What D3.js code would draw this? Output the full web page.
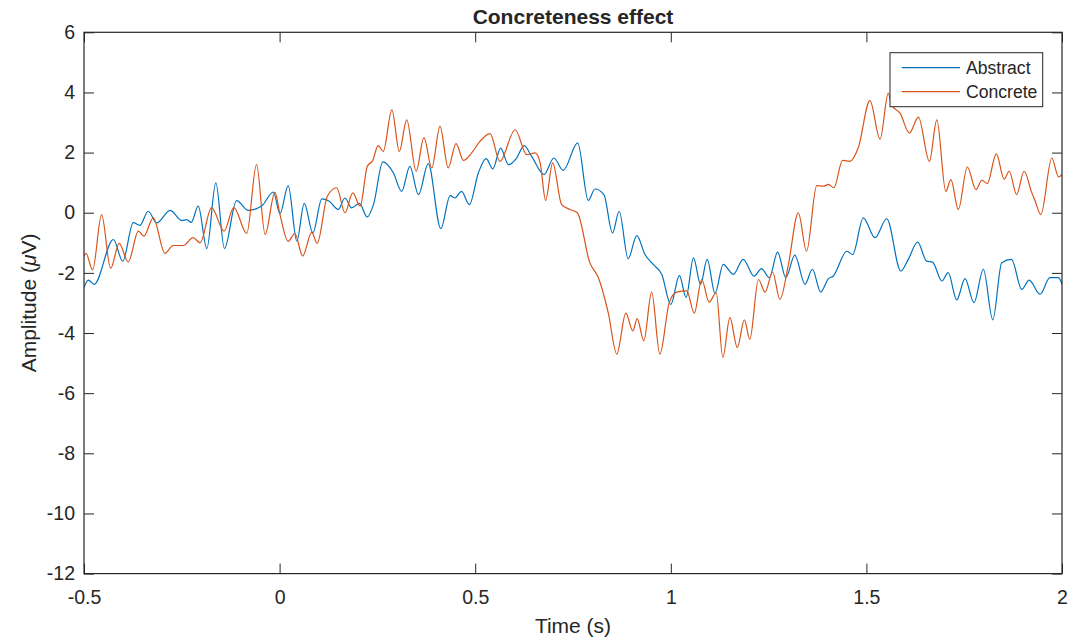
<!DOCTYPE html>
<html>
<head>
<meta charset="utf-8">
<script src="https://cdn.jsdelivr.net/npm/d3@7"></script>
<style>
  body { margin: 0; background: #fff; }
  svg text { font-family: "Liberation Sans", Arial, Helvetica, sans-serif; fill: #262626; }
</style>
</head>
<body>
<div id="chart"></div>
<script>
// data (time in s, amplitude in microvolts)
var tAbstract = [-0.5,-0.489,-0.474,-0.425,-0.401,-0.374,-0.357,-0.336,-0.314,-0.28,-0.25,-0.237,-0.226,-0.208,-0.186,-0.163,-0.141,-0.11,-0.08,-0.046,-0.016,
  0.001,0.022,0.044,0.063,0.085,0.108,0.127,0.15,0.167,0.184,0.204,0.224,0.24,0.264,0.291,0.312,0.333,0.355,0.38,0.412,0.436,0.448,0.465,0.485,
  0.508,0.528,0.545,0.565,0.585,0.606,0.625,0.644,0.676,0.701,0.725,0.762,0.789,0.806,0.829,0.851,0.868,0.891,0.913,0.934,0.955,0.977,
  1.0,1.022,1.039,1.058,1.076,1.093,1.113,1.134,1.16,1.185,1.213,1.232,1.252,1.273,1.294,1.317,1.343,1.362,1.383,1.403,1.415,1.45,1.465,1.492,
  1.522,1.552,1.588,1.607,1.631,1.654,1.669,1.693,1.709,1.731,1.752,1.775,1.799,1.823,1.846,1.871,1.897,1.916,1.944,1.969,1.991,2.0];
var vAbstract = [-2.49,-2.24,-2.38,-0.89,-1.61,-0.33,-0.42,0.05,-0.34,0.08,-0.26,-0.23,-0.32,0.22,-1.19,0.99,-1.19,0.40,0.08,0.22,0.69,
  -0.03,0.90,-0.94,0.31,-0.67,0.46,0.38,0.11,0.49,0.16,0.31,-0.14,0.27,1.69,1.32,0.71,1.54,0.60,1.63,-0.53,0.57,0.49,0.71,0.27,
  1.32,1.80,1.46,2.15,1.60,1.82,2.23,1.88,1.27,1.82,1.41,2.32,0.41,0.79,0.60,-0.67,0.05,-1.53,-0.76,-1.39,-1.72,-2.05,
  -3.05,-2.08,-2.82,-1.50,-2.38,-1.55,-2.68,-1.72,-2.05,-1.55,-2.11,-1.86,-2.16,-1.31,-2.16,-1.41,-2.38,-1.88,-2.64,-2.19,-2.11,-1.28,-1.39,-0.17,
  -0.83,-0.20,-1.94,-1.55,-0.98,-1.61,-1.64,-2.27,-1.99,-2.90,-2.19,-2.99,-1.88,-3.56,-1.66,-1.55,-2.55,-2.24,-2.71,-2.16,-2.16,-2.38];

var tConcrete = [-0.5,-0.495,-0.478,-0.455,-0.432,-0.41,-0.387,-0.361,-0.347,-0.323,-0.293,-0.272,-0.246,-0.221,-0.203,-0.174,-0.142,-0.117,-0.084,-0.059,-0.037,-0.012,
  0.001,0.022,0.039,0.059,0.082,0.096,0.122,0.146,0.167,0.187,0.206,0.224,0.238,0.252,0.265,0.287,0.306,0.325,0.349,0.369,0.389,0.41,0.431,0.451,0.47,0.491,
  0.512,0.538,0.563,0.602,0.632,0.653,0.666,0.68,0.698,0.721,0.742,0.761,0.793,0.815,0.84,0.862,0.885,0.903,0.914,0.931,0.951,0.972,0.996,
  1.015,1.041,1.06,1.079,1.098,1.116,1.133,1.151,1.17,1.188,1.202,1.224,1.241,1.26,1.279,1.3,1.326,1.347,1.373,1.39,1.403,1.417,1.439,1.458,1.479,
  1.509,1.535,1.556,1.564,1.586,1.61,1.633,1.661,1.68,1.703,1.716,1.735,1.758,1.78,1.795,1.809,1.832,1.852,1.865,1.884,1.903,1.923,1.93,1.946,1.974,1.991,2.0];
var vConcrete = [-1.44,-1.35,-1.90,-0.06,-1.85,-1.02,-1.64,-0.61,-0.78,-0.17,-1.35,-1.09,-1.09,-0.83,-1.00,0.17,-0.61,0.17,-0.69,1.60,-0.72,0.68,
  -0.06,-0.95,-0.69,-1.44,-0.65,-1.02,0.55,0.83,0.0,0.66,0.22,1.54,1.74,2.23,2.04,3.42,2.04,3.09,1.38,2.50,1.49,2.87,1.49,2.30,1.74,1.99,
  2.37,2.63,1.71,2.76,1.93,1.99,1.66,0.41,1.66,0.27,0.11,0.0,-1.66,-2.16,-3.32,-4.70,-3.34,-3.93,-3.52,-4.26,-2.64,-4.70,-2.99,
  -2.64,-2.60,-3.34,-2.22,-2.97,-2.66,-4.81,-3.49,-4.48,-3.56,-4.21,-2.22,-2.64,-1.97,-2.88,-1.77,0.0,-1.28,0.90,0.88,0.94,0.83,1.74,1.71,2.15,
  3.73,2.45,3.98,3.59,3.31,2.65,3.18,1.71,3.09,0.71,1.10,0.11,1.52,0.77,1.08,0.97,1.96,1.12,1.38,0.60,1.38,0.66,0.44,-0.06,1.82,1.19,1.27];

var xTicks = [-0.5, 0, 0.5, 1, 1.5, 2];
var xTickLabels = ["-0.5", "0", "0.5", "1", "1.5", "2"];
var yTicks = [-12, -10, -8, -6, -4, -2, 0, 2, 4, 6];
var yTickLabels = ["-12", "-10", "-8", "-6", "-4", "-2", "0", "2", "4", "6"];
var seriesNames = ["Abstract", "Concrete"];
var seriesColors = ["#0072BD", "#D95319"];

var w = 1083, h = 640;
var plotL = 84, plotR = 1062, plotT = 32.3, plotB = 573.6;
var axisColor = "#262626";

var svg = d3.select("#chart").append("svg").attr("width", w).attr("height", h);

var x = d3.scaleLinear().domain([-0.5, 2]).range([plotL, plotR]);
var y = d3.scaleLinear().domain([-12, 6]).range([plotB, plotT]);

svg.append("clipPath").attr("id", "clip")
  .append("rect").attr("x", plotL).attr("y", plotT).attr("width", plotR - plotL).attr("height", plotB - plotT);

// lines
var line = d3.line().x(function(d) { return x(d[0]); }).y(function(d) { return y(d[1]); }).curve(d3.curveMonotoneX);
var series = [d3.zip(tAbstract, vAbstract), d3.zip(tConcrete, vConcrete)];
svg.append("g").attr("clip-path", "url(#clip)")
  .selectAll("path").data(series).enter().append("path")
  .attr("d", line)
  .attr("fill", "none")
  .attr("stroke", function(d, i) { return seriesColors[i]; })
  .attr("stroke-width", 1.2);

// axes, ticks pointing in on all four sides
function styleAxis(g) {
  g.select(".domain").remove();
  g.selectAll(".tick line").attr("stroke", axisColor).attr("stroke-width", 1);
  g.selectAll(".tick text").style("font-size", "19.5px").attr("fill", axisColor);
}
svg.append("g").attr("transform", "translate(0," + plotB + ")")
  .call(d3.axisBottom(x).tickValues(xTicks).tickFormat(function(d, i) { return xTickLabels[i]; })
    .tickSizeInner(-10).tickSizeOuter(0).tickPadding(17))
  .call(styleAxis);
svg.append("g").attr("transform", "translate(0," + plotT + ")")
  .call(d3.axisTop(x).tickValues(xTicks).tickFormat("").tickSizeInner(-10).tickSizeOuter(0))
  .call(styleAxis);
svg.append("g").attr("transform", "translate(" + plotL + ",0)")
  .call(d3.axisLeft(y).tickValues(yTicks).tickFormat(function(d, i) { return yTickLabels[i]; })
    .tickSizeInner(-10).tickSizeOuter(0).tickPadding(9))
  .call(styleAxis);
svg.append("g").attr("transform", "translate(" + plotR + ",0)")
  .call(d3.axisRight(y).tickValues(yTicks).tickFormat("").tickSizeInner(-10).tickSizeOuter(0))
  .call(styleAxis);

svg.append("rect").attr("x", plotL).attr("y", plotT).attr("width", plotR - plotL).attr("height", plotB - plotT)
  .attr("fill", "none").attr("stroke", axisColor).attr("stroke-width", 1.2);

// title and labels
svg.append("text").attr("x", (plotL + plotR) / 2).attr("y", 23.5).attr("text-anchor", "middle")
  .style("font-size", "21px").style("font-weight", "bold").text("Concreteness effect");
svg.append("text").attr("x", (plotL + plotR) / 2).attr("y", 633).attr("text-anchor", "middle")
  .style("font-size", "21px").text("Time (s)");
var yl = svg.append("text").attr("transform", "translate(36," + (plotT + plotB) / 2 + ") rotate(-90)")
  .attr("text-anchor", "middle").style("font-size", "21px");
yl.append("tspan").text("Amplitude (");
yl.append("tspan").style("font-style", "italic").text("\u03bc");
yl.append("tspan").text("V)");

// legend
var lg = svg.append("g");
lg.append("rect").attr("x", 890).attr("y", 52.7).attr("width", 152.7).attr("height", 54)
  .attr("fill", "#fff").attr("stroke", axisColor).attr("stroke-width", 1);
var rows = lg.selectAll("g.row").data(seriesNames).enter().append("g").attr("class", "row")
  .attr("transform", function(d, i) { return "translate(0," + (67.7 + i * 24) + ")"; });
rows.append("line").attr("x1", 901.7).attr("x2", 960).attr("y1", 0).attr("y2", 0)
  .attr("stroke", function(d, i) { return seriesColors[i]; }).attr("stroke-width", 1.2);
rows.append("text").attr("x", 966).attr("dy", "0.35em").style("font-size", "17.6px").text(function(d) { return d; });
</script>
</body>
</html>
